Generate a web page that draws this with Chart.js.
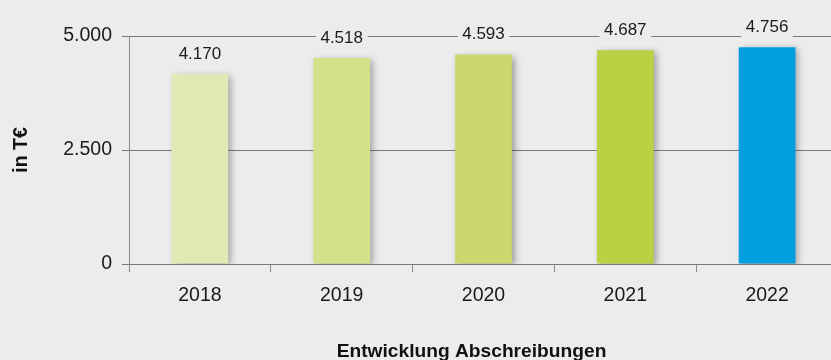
<!DOCTYPE html>
<html>
<head>
<meta charset="utf-8">
<script src="https://cdn.jsdelivr.net/npm/chart.js@4/dist/chart.umd.min.js"></script>
<style>
  html, body { margin: 0; padding: 0; background: #ececec; overflow: hidden; }
  #wrap { width: 831px; height: 360px; position: relative; overflow: hidden; }
</style>
</head>
<body>
<div id="wrap"><canvas id="c" width="838" height="360"></canvas></div>
<script>
// Jahre und Abschreibungen (in T€)
const years = ['2018', '2019', '2020', '2021', '2022'];
const depreciation = [4170, 4518, 4593, 4687, 4756];
const barColors = ['#e0e9b3', '#d4e08a', '#cad86f', '#bcd043', '#009fdf'];
const yTicks = [0, 2500, 5000];
const yTitle = 'in T€';
const xTitle = 'Entwicklung Abschreibungen';

const BG = '#ececec';
const FONT = '"Liberation Sans", Arial, Helvetica, sans-serif';

const fmt = v => v.toLocaleString('de-DE');

// soft drop shadow under the bars
const barShadow = {
  id: 'barShadow',
  beforeDatasetsDraw(chart) {
    const ctx = chart.ctx;
    ctx.save();
    ctx.shadowColor = 'rgba(0,0,0,0.34)';
    ctx.shadowBlur = 7;
    ctx.shadowOffsetX = 3;
    ctx.shadowOffsetY = 2;
  },
  afterDatasetsDraw(chart) {
    chart.ctx.restore();
  }
};

// value labels above the bars, on a background-coloured box
const valueLabels = {
  id: 'valueLabels',
  afterDatasetsDraw(chart) {
    const ctx = chart.ctx;
    const meta = chart.getDatasetMeta(0);
    ctx.save();
    ctx.font = `17px ${FONT}`;
    ctx.textAlign = 'center';
    ctx.textBaseline = 'middle';
    meta.data.forEach((bar, i) => {
      const txt = fmt(depreciation[i]);
      const w = ctx.measureText(txt).width + 9;
      const cy = bar.y - 21;
      ctx.fillStyle = BG;
      ctx.fillRect(bar.x - w / 2, cy - 11, w, 22);
      ctx.fillStyle = '#1a1a1a';
      ctx.fillText(txt, bar.x, cy + 1);
    });
    ctx.restore();
  }
};

// axis titles
const axisTitles = {
  id: 'axisTitles',
  afterDraw(chart) {
    const ctx = chart.ctx;
    const area = chart.chartArea;
    ctx.save();
    ctx.fillStyle = '#111';
    ctx.font = `bold 19.5px ${FONT}`;
    ctx.textAlign = 'center';
    ctx.textBaseline = 'middle';
    ctx.translate(22, (area.top + area.bottom) / 2);
    ctx.rotate(-Math.PI / 2);
    ctx.fillText(yTitle, 0, 0);
    ctx.restore();

    ctx.save();
    ctx.fillStyle = '#111';
    ctx.font = `bold 19.2px ${FONT}`;
    ctx.textAlign = 'center';
    ctx.textBaseline = 'alphabetic';
    ctx.fillText(xTitle, 471.5, 357);
    ctx.restore();
  }
};

new Chart(document.getElementById('c'), {
  type: 'bar',
  data: {
    labels: years,
    datasets: [{
      data: depreciation,
      backgroundColor: barColors,
      borderWidth: 0,
      barPercentage: 0.8,
      categoryPercentage: 0.5
    }]
  },
  options: {
    responsive: false,
    animation: false,
    events: [],
    layout: { padding: { top: 36, right: 0, left: 0, bottom: 0 } },
    plugins: {
      legend: { display: false },
      tooltip: { enabled: false },
      title: { display: false }
    },
    scales: {
      x: {
        afterFit(scale) { scale.height = 96; },
        grid: {
          offset: true,
          drawOnChartArea: false,
          drawTicks: true,
          tickLength: 8,
          color: '#8a8a8a',
          lineWidth: 1
        },
        border: { display: false },
        ticks: {
          padding: 12,
          color: '#1a1a1a',
          font: { family: FONT, size: 19.5 }
        }
      },
      y: {
        min: 0,
        max: 5000,
        afterFit(scale) { scale.width = 129; },
        afterBuildTicks(scale) { scale.ticks = yTicks.map(v => ({ value: v })); },
        grid: {
          color: '#7a7a7a',
          lineWidth: 1,
          drawTicks: true,
          tickLength: 7
        },
        border: { display: true, color: '#8a8a8a', width: 1 },
        ticks: {
          padding: 10,
          color: '#1a1a1a',
          font: { family: FONT, size: 19.5 },
          callback: v => fmt(v)
        }
      }
    }
  },
  plugins: [barShadow, valueLabels, axisTitles]
});
</script>
</body>
</html>
